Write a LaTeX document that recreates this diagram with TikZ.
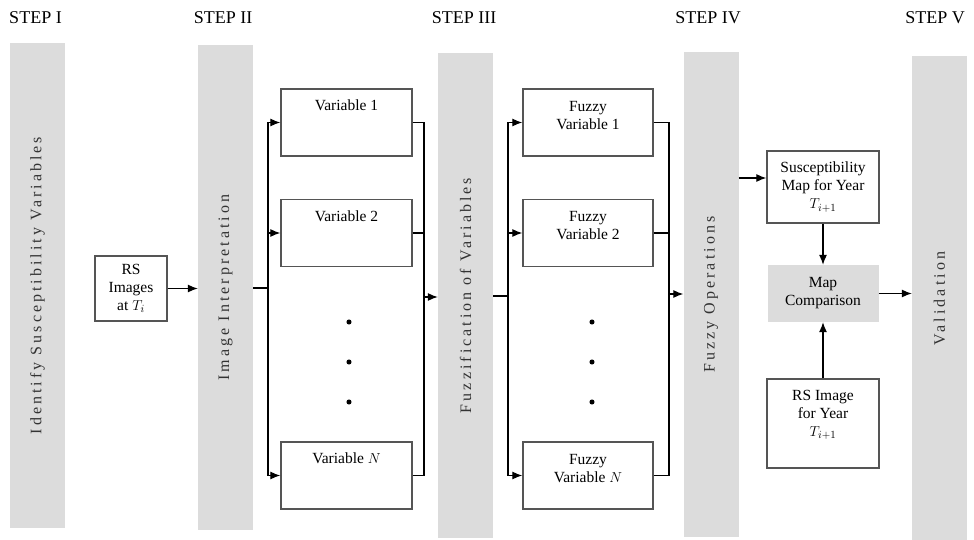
\documentclass[tikz,border=0pt]{standalone}
\usepackage{fontspec}
\setmainfont{Liberation Serif}
\newfontfamily\spacedfont[LetterSpace=19]{Liberation Serif}
\usetikzlibrary{arrows.meta,positioning,calc}
\definecolor{bargray}{RGB}{220,220,220}
\definecolor{boxline}{RGB}{85,85,85}

\begin{document}
\begin{tikzpicture}[x=1pt,y=-1pt,>={Latex[length=10pt,width=8pt]},
  every node/.style={font=\fontsize{15.5}{18}\selectfont},
  bar/.style={fill=bargray,minimum width=55pt,minimum height=485pt,inner sep=0pt},
  bartext/.style={rotate=90,text=black!80,font=\fontsize{16}{18}\spacedfont},
  steplabel/.style={font=\fontsize{18}{20}\selectfont},
  box/.style={draw=boxline,line width=1.4pt,inner sep=0pt,align=center},
  varbox/.style={box,minimum width=131pt,minimum height=67pt},
  link/.style={line width=1.1pt},
  dot/.style={circle,fill,inner sep=1.8pt}]
\useasboundingbox (0,0) rectangle (974,540);
% the five steps
\node[bar] (b1) at (37.5,285.5) {};
\node[bar] (b2) at (225.5,287.5) {};
\node[bar] (b3) at (465.5,295.5) {};
\node[bar] (b4) at (711,294.5) {};
\node[bar] (b5) at (939.5,298.5) {};
\node[bartext] (t1) at (b1) {Identify Susceptibility Variables};
\node[bartext] (t2) at (b2) {Image Interpretation};
\node[bartext] (t3) at (b3) {Fuzzification of Variables};
\node[bartext] (t4) at (b4) {Fuzzy Operations};
\node[bartext] (t5) at (b5) {Validation};
\node[steplabel] (s1) at (35.5,18) {STEP I};
\node[steplabel] (s2) at (223,18) {STEP II};
\node[steplabel] (s3) at (464,18) {STEP III};
\node[steplabel] (s4) at (708,18) {STEP IV};
\node[steplabel] (s5) at (935,18) {STEP V};
% boxes
\node[box,minimum width=72pt,minimum height=65pt] (rs) at (131,288.5) {RS\\Images\\at $T_i$};
\node[varbox,label={[yshift=17pt]center:Variable 1}] (v1) at (346.5,122.5) {};
\node[varbox,label={[yshift=17pt]center:Variable 2}] (v2) at (346.5,233) {};
\node[varbox,label={[yshift=17pt]center:Variable $N$}] (vn) at (346.5,475.5) {};
\node[varbox,minimum width=130pt,label={[align=center,yshift=7pt]center:Fuzzy\\Variable 1}] (f1) at (588,122.5) {};
\node[varbox,minimum width=130pt,label={[align=center,yshift=7pt]center:Fuzzy\\Variable 2}] (f2) at (588,233) {};
\node[varbox,minimum width=130pt,label={[align=center,yshift=7pt]center:Fuzzy\\Variable $N$}] (fn) at (588,475.5) {};
\foreach \y [count=\k] in {322,362,402} {
  \node[dot] (dv\k) at (349,\y) {};
  \node[dot] (df\k) at (592,\y) {};
}
\node[box,minimum width=112pt,minimum height=72pt] (sus) at (823,187) {Susceptibility\\Map for Year\\$T_{i+1}$};
\node[fill=bargray,minimum width=111pt,minimum height=57pt,align=center,inner sep=0pt] (cmp) at (823,293.5) {Map\\Comparison};
\node[box,minimum width=112pt,minimum height=89pt,label={[align=center,yshift=9pt]center:RS Image\\for Year\\$T_{i+1}$}] (rsi) at (823,423.5) {};
% connectors
\coordinate (sp1) at (268,288);
\coordinate (jn1) at (424,297);
\coordinate (sp2) at (508,296);
\coordinate (jn2) at (669,294);
\coordinate (sin) at ([yshift=9pt]sus.west);
\draw[link,->] (rs) -- (rs -| b2.west);
\draw[link] (sp1 -| b2.east) -- (sp1);
\foreach \n in {v1,v2,vn} {
  \draw[link,->] (sp1) |- (\n);
  \draw[link] (\n) -| (jn1);
}
\draw[link,->] (jn1) -- (jn1 -| b3.west);
\draw[link] (sp2 -| b3.east) -- (sp2);
\foreach \n in {f1,f2,fn} {
  \draw[link,->] (sp2) |- (\n);
  \draw[link] (\n) -| (jn2);
}
\draw[link,->] (jn2) -- (jn2 -| b4.west);
\draw[link,->] (sin -| b4.east) -- (sin);
\draw[link,->] (sus) -- (cmp);
\draw[link,->] (rsi) -- (cmp);
\draw[link,->] (cmp) -- (cmp -| b5.west);
\end{tikzpicture}
\end{document}
